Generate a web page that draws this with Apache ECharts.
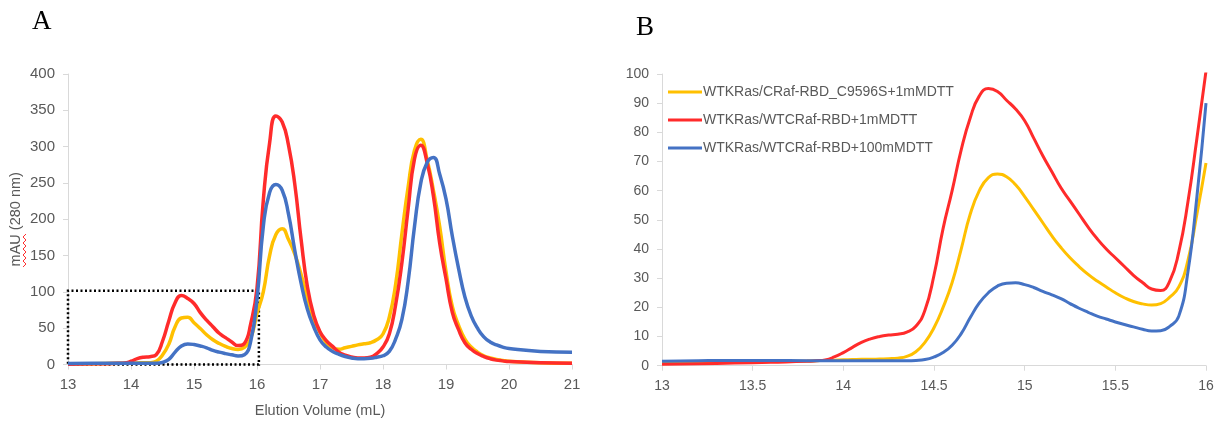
<!DOCTYPE html>
<html>
<head>
<meta charset="utf-8">
<script src="https://cdn.jsdelivr.net/npm/echarts@6/dist/echarts.min.js"></script>
<style>
  html, body { margin: 0; padding: 0; background: #fff; }
  #chart { width: 1228px; height: 421px; }
</style>
</head>
<body>
<div id="chart"></div>
<script>
// panel A: full elution profile (mL vs mAU)
var volA = [13, 13.4, 13.8, 13.9, 14.0, 14.1, 14.2, 14.3, 14.4, 14.5,
  14.6, 14.7, 14.8, 14.9, 15.0, 15.1, 15.2, 15.3, 15.4, 15.5,
  15.6, 15.7, 15.8, 15.9, 16.0, 16.1, 16.2, 16.3, 16.4, 16.5,
  16.6, 16.7, 16.8, 16.9, 17.0, 17.1, 17.2, 17.3, 17.4, 17.5,
  17.6, 17.7, 17.8, 17.9, 18.0, 18.1, 18.2, 18.3, 18.4, 18.5,
  18.6, 18.7, 18.8, 18.9, 19.0, 19.1, 19.2, 19.3, 19.4, 19.5,
  19.6, 19.7, 19.8, 19.9, 20.0, 20.5, 21];
var yellowA = [0.8, 1.1,
  1.6, 1.8, 2, 2.2, 2.3, 2.5, 4.5, 13, 28, 52,
  64, 65, 57.5, 49.5, 41, 34, 29, 25, 22, 20.8,
  23.5, 36, 70, 100, 150, 179, 187, 172, 152, 124,
  92, 62, 44, 30, 23, 21, 23, 25, 27, 28.5,
  30, 34, 42, 65, 110, 180, 245, 295, 310, 282,
  240, 190, 128, 80, 54, 35, 24, 17, 12, 9,
  7, 5.5, 4.5,
  2.5, 1.7];
var redA = [0.5, 0.9,
  1.6, 2, 4.5, 8, 10, 10.8, 13.5, 32, 60, 85,
  95, 91, 84, 71.5, 61, 52, 43, 37, 31, 26,
  29, 56, 105, 226, 305, 342, 334, 302, 248, 172,
  107, 68, 45, 33, 25, 17, 13, 10.5, 9, 9,
  10, 15, 24, 42, 82, 140, 215, 283, 302, 278,
  232, 167, 118, 72, 48, 30, 21, 15, 11, 8,
  6, 5, 4,
  2.5, 1.7];
var blueA = [1.5, 1.8,
  1.7, 1.7, 1.7, 1.7, 1.7, 1.7, 1.8, 3, 7, 17,
  25.5, 28.3, 27.5, 25.5, 23, 19.5, 17, 15, 13.3, 11.8,
  13.5, 32, 90, 190, 237, 248, 240, 207, 157, 112,
  76, 52, 34, 24, 18, 14, 11, 9, 8, 8,
  8.5, 10, 12, 18, 35, 62, 115, 190, 250, 278,
  285, 262, 228, 177, 132, 93, 67, 50, 38, 31,
  27, 24, 22,
  18, 17];

// panel B: zoom on 13-16 mL
var volB = [13, 13.2, 13.4, 13.6,
  13.8, 13.85, 13.9, 13.95, 14.0, 14.05, 14.1, 14.15, 14.2, 14.25,
  14.3, 14.35, 14.4, 14.45, 14.5, 14.55, 14.6, 14.65, 14.7, 14.75,
  14.8, 14.85, 14.9, 14.95, 15.0, 15.05, 15.1, 15.15, 15.2, 15.25,
  15.3, 15.35, 15.4, 15.45, 15.5, 15.55, 15.6, 15.65, 15.7, 15.75,
  15.8, 15.85, 15.9, 15.95, 16.0];
var yellowB = [0.8, 1.0, 1.2, 1.4,
  1.6, 1.7, 1.8, 1.9, 2, 2.1, 2.2, 2.2, 2.3, 2.4,
  2.6, 3.2, 4.8, 8, 13, 20, 28.5, 40, 52, 60,
  64.5, 65.7, 64.8, 62, 58, 53.5, 49, 44.5, 40.5, 37,
  34, 31.3, 29, 27, 25, 23.3, 22, 21.2, 20.8, 21.3,
  23.5, 27, 36, 52, 69.5];
var redB = [0.5, 0.7, 0.9, 1.2,
  1.5, 1.7, 2, 3, 4.5, 6.3, 8, 9.2, 10, 10.5,
  10.8, 11.5, 13.5, 19, 31, 47, 60, 74, 85, 92.5,
  95, 94, 91, 88, 84, 78, 72, 66.5, 61, 56.5,
  52, 47.5, 43.5, 40, 37, 34, 31, 28.5, 26.3, 25.8,
  29, 39, 56, 78, 101];
var blueB = [1.5, 1.7, 1.8, 1.8,
  1.7, 1.7, 1.7, 1.7, 1.7, 1.7, 1.7, 1.7, 1.7, 1.7,
  1.7, 1.7, 1.8, 2.1, 3, 4.5, 7, 11, 16.5, 21.5,
  25, 27.3, 28.3, 28.4, 27.8, 26.8, 25.5, 24.3, 23, 21.3,
  19.7, 18.3, 17, 16, 15, 14.1, 13.3, 12.5, 11.9, 12,
  13.5, 17, 32, 58, 90];

var names = ['WTKRas/CRaf-RBD_C9596S+1mMDTT', 'WTKRas/WTCRaf-RBD+1mMDTT', 'WTKRas/WTCRaf-RBD+100mMDTT'];
var colors = ['#FFC000', '#FF2B2B', '#4472C4'];

function zip(xs, ys) {
  return xs.map(function (x, i) { return [x, ys[i]]; });
}

var axisGray = '#d9d9d9';
var labelGray = '#595959';
var font = 'Liberation Sans';

function xAx(idx, min, max, step, size) {
  return {
    type: 'value', gridIndex: idx, min: min, max: max, interval: step,
    axisLine: { show: true, lineStyle: { color: axisGray, width: 1 } },
    axisTick: { show: true, length: 5, lineStyle: { color: axisGray } },
    axisLabel: { color: labelGray, fontSize: size, fontFamily: font, margin: 13 },
    splitLine: { show: false }
  };
}
function yAx(idx, max, step, size) {
  return {
    type: 'value', gridIndex: idx, min: 0, max: max, interval: step,
    axisLine: { show: true, lineStyle: { color: axisGray, width: 1 } },
    axisTick: { show: true, length: 5, lineStyle: { color: axisGray } },
    axisLabel: { color: labelGray, fontSize: size, fontFamily: font, margin: 13 },
    splitLine: { show: false }
  };
}

var xA = xAx(0, 13, 21, 1, 15);
xA.name = 'Elution Volume (mL)';
xA.nameLocation = 'middle';
xA.nameGap = 39;
xA.nameTextStyle = { color: labelGray, fontSize: 14.5, fontFamily: font };
var yA = yAx(0, 400, 50, 15);
yA.name = 'mAU (280 nm)';
yA.nameLocation = 'middle';
yA.nameGap = 45;
yA.nameTextStyle = { color: labelGray, fontSize: 14.5, fontFamily: font };

function line(name, color, data, xi, w) {
  return {
    name: name, type: 'line', xAxisIndex: xi, yAxisIndex: xi,
    data: data, smooth: 0.5, showSymbol: false, symbol: 'none',
    lineStyle: { color: color, width: w }, itemStyle: { color: color },
    clip: true, silent: true
  };
}

var series = [
  line(names[0], colors[0], zip(volA, yellowA), 0, 3.5),
  line(names[1], colors[1], zip(volA, redA), 0, 3.5),
  line(names[2], colors[2], zip(volA, blueA), 0, 3.5),
  line(names[0], colors[0], zip(volB, yellowB), 1, 3),
  line(names[1], colors[1], zip(volB, redB), 1, 3),
  line(names[2], colors[2], zip(volB, blueB), 1, 3)
];
// dotted box marking the zoomed region
series[2].markArea = {
  silent: true,
  itemStyle: { color: 'rgba(0,0,0,0)', borderColor: '#000', borderWidth: 2.5, borderType: [2, 2.5] },
  data: [[{ coord: [13, 0] }, { coord: [16.03, 101.5] }]]
};

var chart = echarts.init(document.getElementById('chart'), null, { renderer: 'canvas' });
chart.setOption({
  backgroundColor: '#fff',
  animation: false,
  grid: [
    { left: 68, right: 656, top: 74, bottom: 56.5, outerBoundsMode: 'none' },
    { left: 662, right: 22, top: 74, bottom: 55.3, outerBoundsMode: 'none' }
  ],
  legend: {
    orient: 'vertical', left: 663, top: 80,
    icon: 'rect', itemWidth: 34, itemHeight: 3, itemGap: 14,
    selectedMode: false,
    textStyle: { color: labelGray, fontSize: 14, fontFamily: font, padding: [0, 0, 0, -4] },
    data: names
  },
  xAxis: [xA, xAx(1, 13, 16, 0.5, 14)],
  yAxis: [yA, yAx(1, 100, 10, 14)],
  graphic: [
    { type: 'text', left: 32, top: 8, style: { text: 'A', fontSize: 27, fontFamily: 'Liberation Serif', fill: '#000' } },
    { type: 'text', left: 636, top: 14, style: { text: 'B', fontSize: 27, fontFamily: 'Liberation Serif', fill: '#000' } },
    { type: 'polyline', silent: true,
      shape: { points: [[23, 267], [26, 264], [23, 261], [26, 258], [23, 255], [26, 252], [23, 249], [26, 246], [23, 243], [26, 240], [23, 237], [26, 234]] },
      style: { stroke: '#ff3030', lineWidth: 1, fill: null } }
  ],
  series: series
});
</script>
</body>
</html>
